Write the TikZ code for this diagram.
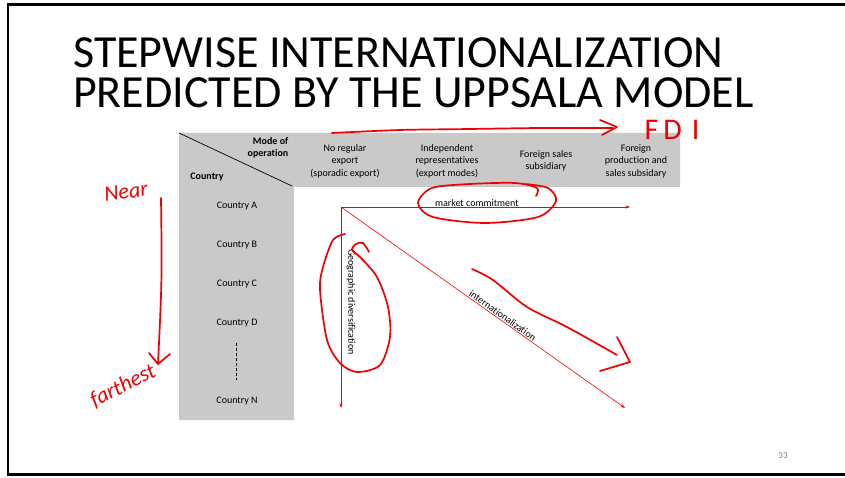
\documentclass[tikz,border=0pt]{standalone}
\usepackage{fontspec}
\setmainfont{Carlito}[Ligatures=NoCommon]
\usetikzlibrary{arrows.meta,positioning}
\definecolor{cellgray}{RGB}{201,201,201}
\definecolor{inkred}{RGB}{240,0,0}

\begin{document}
\begin{tikzpicture}[x=1pt,y=-1pt,
title/.style={anchor=base west, inner sep=0pt, font=\fontsize{46}{46}\selectfont},
colhead/.style={align=center, inner sep=0pt, font=\fontsize{10}{12.5}\selectfont},
corner/.style={align=right, inner sep=0pt, font=\bfseries\fontsize{10}{12.5}\selectfont},
country/.style={inner sep=0pt, font=\fontsize{10}{12}\selectfont},
axis/.style={inkred, line width=0.6pt, -{Stealth[length=1.6mm,width=1.1mm]}},
axislabel/.style={inner sep=1pt, font=\fontsize{10}{12}\selectfont, text=black},
pen/.style={inkred, line width=1.7pt, line cap=round, line join=round},
scrawl/.style={text=inkred, inner sep=0pt, font=\itshape\fontsize{22}{22}\selectfont}
]
\useasboundingbox (0,0) rectangle (845,478);
\draw[line width=2.4pt] (846,4.5) -- (8,4.5) -- (8,474.5) -- (846,474.5);

% title
\node[title] (t1) at (73,68) {STEPWISE INTERNATIONALIZATION};
\node[title] (t2) at (73,108) {PREDICTED BY THE UPPSALA MODEL};

% table
\fill[cellgray] (179,133) -- (680,133) -- (680,187) -- (294,187) -- (294,420) -- (179,420) -- cycle;
\coordinate (c1) at (179,133);
\coordinate (c2) at (292,186);
\draw[line width=0.7pt] (c1) -- (c2);
\node[corner] (mode) at (268,148) {Mode of\\operation};
\node[corner] (cty) at (207,177) {Country};

\node[colhead] (h1) at (345,161) {No regular\\export\\(sporadic export)};
\node[colhead] (h2) at (447,161) {Independent\\representatives\\(export modes)};
\node[colhead] (h3) at (546,161) {Foreign sales\\subsidiary};
\node[colhead] (h4) at (636,161) {Foreign\\production and\\sales subsidary};

\node[country] (ca) at (237,206) {Country A};
\node[country] (cb) at (237,245) {Country B};
\node[country] (cc) at (237,284) {Country C};
\node[country] (cd) at (237,323) {Country D};
\node[country] (cn) at (237,401) {Country N};
\coordinate (dtop) at (236,343);
\coordinate (dbot) at (236,380);
\draw[dashed, line width=0.6pt, dash pattern=on 3pt off 2pt] (dtop) -- (dbot);

% axes
\coordinate (o) at (341,207);
\coordinate (xend) at (630,207);
\coordinate (yend) at (341,408);
\coordinate (dend) at (625,408);
\draw[axis] (o) -- node[axislabel, above, pos=0.47, yshift=-1pt] (mc) {market commitment} (xend);
\draw[axis] (o) -- (yend);
\draw[axis] (o) -- node[axislabel, sloped, above, pos=0.56] (intl) {internationalization} (dend);
\node[axislabel, rotate=-90] (geo) at (351,302) {Geographic diversification};

\node[text=gray, font=\fontsize{9}{10}\selectfont] (pg) at (783,456) {33};

% handwritten notes
\draw[pen] plot[smooth] coordinates {(332,133) (400,130) (470,129) (540,128) (613,128)};
\draw[pen] (600,120) -- (617,127) -- (602,135);
\node[scrawl, font=\fontsize{30}{30}\selectfont] (fdi) at (672,130) {F\,D\,\,I};

\draw[pen] plot[smooth] coordinates {(536,196) (537,188) (515,183) (470,184) (432,188) (418,203) (433,217) (485,223) (538,217) (556,201) (548,188) (525,184)};
\draw[pen] plot[smooth] coordinates {(345,234) (333,240) (323,267) (320,290) (327,340) (340,363) (357,372) (380,365) (390,337) (388,307) (377,277) (360,257) (352,250) (356,244) (363,243) (369,252)};
\draw[pen] plot[smooth] coordinates {(472,269) (493,280) (527,307) (567,327) (617,355)};
\draw[pen] (617,337) -- (630,362) -- (600,371);

\node[scrawl, rotate=8] (near) at (126,192) {Near};
\coordinate (ntop) at (161,198);
\coordinate (nbot) at (158,364);
\draw[pen] (ntop) .. controls (162,280) .. (nbot);
\draw[pen] (149,353) -- (nbot) -- (170,354);
\node[scrawl, rotate=27] (far) at (123,386) {farthest};
\end{tikzpicture}
\end{document}
